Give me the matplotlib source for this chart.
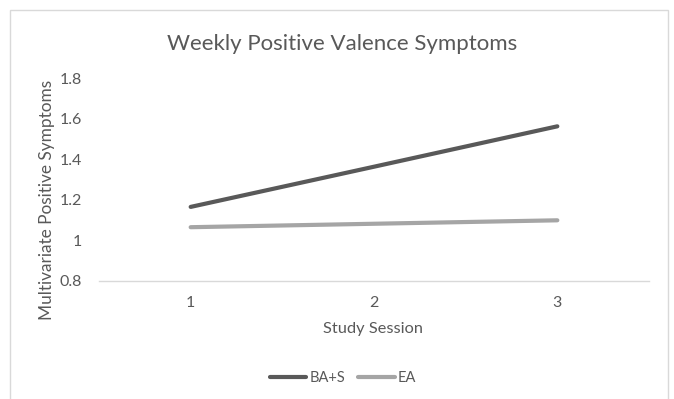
import matplotlib
matplotlib.use("Agg")
import matplotlib.pyplot as plt
from matplotlib.patches import Rectangle

plt.rcParams["font.family"] = ["Lato", "DejaVu Sans"]

# data
sessions = ["1", "2", "3"]
ba_s = [1.165, 1.363, 1.562]
ea = [1.065, 1.082, 1.099]
yticks = [0.8, 1.0, 1.2, 1.4, 1.6, 1.8]
ytick_labels = ["0.8", "1", "1.2", "1.4", "1.6", "1.8"]

txt = "#595959"
W, H = 674, 399

fig = plt.figure(figsize=(6.74, 3.99), dpi=100)
ax = fig.add_axes([99/W, 1 - 281/H, 550/W, 203/H])

x = range(1, len(sessions) + 1)
ax.plot(x, ba_s, color="#595959", lw=3, solid_capstyle="round", label="BA+S")
ax.plot(x, ea, color="#a5a5a5", lw=3, solid_capstyle="round", label="EA")

ax.set_xlim(0.5, 3.5)
ax.set_ylim(0.8, 1.8)
ax.set_xticks(list(x))
ax.set_xticklabels(sessions)
ax.set_yticks(yticks)
ax.set_yticklabels(ytick_labels)
ax.tick_params(length=0, labelsize=11.5, labelcolor=txt)
ax.tick_params(axis="x", pad=11)
ax.tick_params(axis="y", pad=12)
for s in ["top", "right", "left"]:
    ax.spines[s].set_visible(False)
ax.spines["bottom"].set_color("#d9d9d9")
ax.spines["bottom"].set_linewidth(1)

fig.text(373/W, 1 - 329/H, "Study Session", fontsize=11.8, color=txt,
         ha="center", va="center")
fig.text(47/W, 1 - 200/H, "Multivariate Positive Symptoms", fontsize=12.4,
         color=txt, ha="center", va="center", rotation=90)
fig.text(342/W, 1 - 44/H, "Weekly Positive Valence Symptoms", fontsize=16,
         color=txt, ha="center", va="center")

leg = ax.legend(loc="center", bbox_to_anchor=(343/W, 1 - 378/H),
                bbox_transform=fig.transFigure, ncol=2, frameon=False,
                fontsize=10.5, handlelength=2.5, handletextpad=0.2,
                columnspacing=0.9)
for t in leg.get_texts():
    t.set_color(txt)

fig.patches.append(Rectangle((10/W, -0.05), 658/W, 1.05 - 10/H,
                             transform=fig.transFigure, fill=False,
                             edgecolor="#d9d9d9", lw=1))

fig.savefig("out.png", dpi=100)
